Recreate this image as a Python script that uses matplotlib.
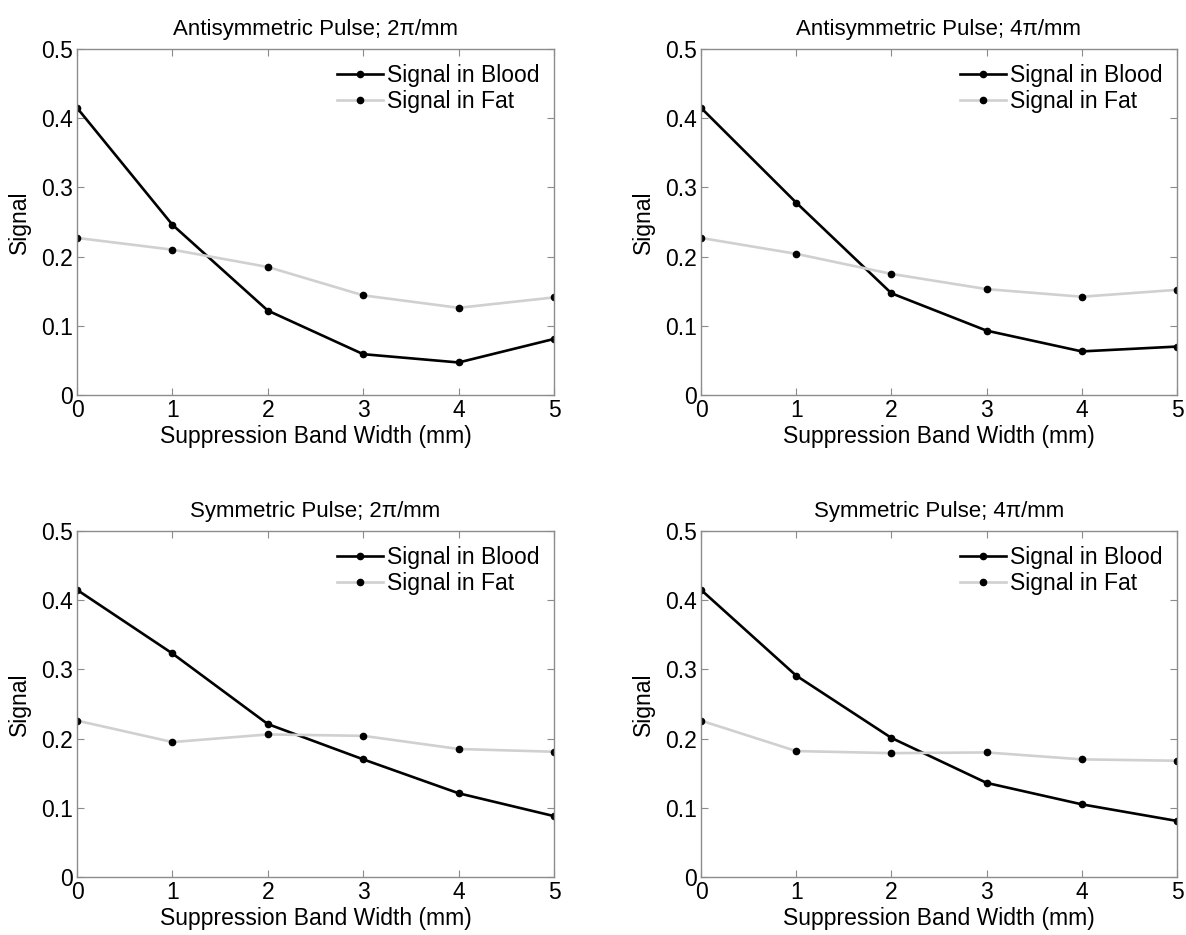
"""Signal in blood vs fat for different suppression band widths."""

import matplotlib
matplotlib.use("Agg")
import matplotlib.pyplot as plt

plt.rcParams["font.family"] = ["Liberation Sans", "DejaVu Sans"]

band_width_mm = [0, 1, 2, 3, 4, 5]

panel_titles = [
    "Antisymmetric Pulse; 2\u03c0/mm",
    "Antisymmetric Pulse; 4\u03c0/mm",
    "Symmetric Pulse; 2\u03c0/mm",
    "Symmetric Pulse; 4\u03c0/mm",
]

blood_signal = [
    [0.415, 0.246, 0.122, 0.059, 0.047, 0.081],
    [0.415, 0.278, 0.147, 0.093, 0.063, 0.070],
    [0.415, 0.323, 0.221, 0.170, 0.121, 0.088],
    [0.415, 0.291, 0.201, 0.136, 0.105, 0.081],
]

fat_signal = [
    [0.227, 0.210, 0.185, 0.144, 0.126, 0.141],
    [0.227, 0.204, 0.175, 0.153, 0.142, 0.152],
    [0.226, 0.195, 0.206, 0.204, 0.185, 0.181],
    [0.226, 0.182, 0.179, 0.180, 0.170, 0.168],
]

y_ticks = [0, 0.1, 0.2, 0.3, 0.4, 0.5]
y_tick_labels = ["0", "0.1", "0.2", "0.3", "0.4", "0.5"]

W, H = 1186, 935
# axes boxes in pixels: left, right, top, bottom
boxes = [
    (77, 554, 49, 395),
    (701, 1177, 49, 395),
    (77, 554, 531, 877),
    (701, 1177, 531, 877),
]

fig = plt.figure(figsize=(W / 100, H / 100), dpi=100)

for i, (l, r, t, b) in enumerate(boxes):
    ax = fig.add_axes([l / W, 1 - b / H, (r - l) / W, (b - t) / H])
    ax.plot(band_width_mm, blood_signal[i], color="black", linewidth=1.9,
            marker="o", markersize=4.5, label="Signal in Blood")
    ax.plot(band_width_mm, fat_signal[i], color="#d0d0d0", linewidth=1.9,
            marker="o", markersize=4.5, markerfacecolor="black",
            markeredgecolor="black", label="Signal in Fat")
    ax.set_xlim(0, 5)
    ax.set_ylim(0, 0.5)
    ax.set_xticks(band_width_mm)
    ax.set_yticks(y_ticks)
    ax.set_yticklabels(y_tick_labels)
    ax.tick_params(direction="in", top=True, right=True, length=5,
                   color="#8c8c8c", labelsize=16.5, pad=3)
    for s in ax.spines.values():
        s.set_color("#8c8c8c")
        s.set_linewidth(1.0)
    ax.set_title(panel_titles[i], fontsize=16, pad=10)
    ax.set_xlabel("Suppression Band Width (mm)", fontsize=16.5, labelpad=2)
    ax.set_ylabel("Signal", fontsize=16.5, labelpad=7)
    ax.legend(loc="upper right", frameon=False, fontsize=16.5, numpoints=1,
              handlelength=2.0, handletextpad=0.15, labelspacing=0.15,
              borderaxespad=0.25)

fig.savefig("out.png", dpi=100)
